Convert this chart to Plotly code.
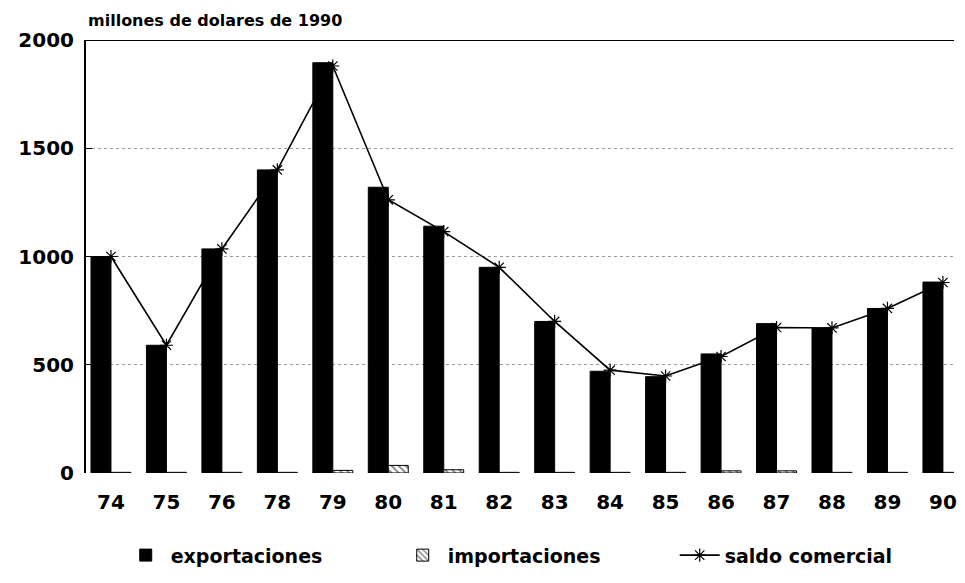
import plotly.graph_objects as go

years = ["74", "75", "76", "78", "79", "80", "81", "82", "83", "84", "85", "86", "87", "88", "89", "90"]
exportaciones = [1000, 590, 1035, 1400, 1895, 1320, 1140, 950, 700, 470, 445, 550, 690, 670, 760, 882]
importaciones = [3, 3, 3, 3, 12, 35, 15, 3, 3, 3, 3, 10, 10, 3, 3, 3]
saldo_comercial = [1000, 590, 1035, 1400, 1880, 1262, 1115, 950, 700, 475, 448, 538, 672, 670, 760, 880]
y_ticks = [0, 500, 1000, 1500, 2000]

FONT = "DejaVu Sans"

fig = go.Figure()
fig.add_trace(go.Bar(
    x=years, y=exportaciones, name="exportaciones",
    marker=dict(color="black", line=dict(color="black", width=1)),
))
fig.add_trace(go.Bar(
    x=years, y=importaciones, name="importaciones",
    marker=dict(color="white", line=dict(color="black", width=1),
                pattern=dict(shape="\\", fgcolor="black", bgcolor="white", size=5, solidity=0.35)),
))
fig.add_trace(go.Scatter(
    x=years, y=saldo_comercial, name="saldo comercial", mode="lines+markers",
    line=dict(color="black", width=1.6),
    marker=dict(symbol="asterisk-open", size=11, color="black", line=dict(color="black", width=1.2)),
))

fig.update_layout(
    width=949, height=567,
    margin=dict(l=78, r=0, t=32, b=102),
    paper_bgcolor="white", plot_bgcolor="white",
    barmode="group", bargap=0.28, bargroupgap=0,
    font=dict(family=FONT, color="black"),
    showlegend=True,
    legend=dict(orientation="h", x=0.04, xanchor="left", y=-0.19, yanchor="middle",
                font=dict(family=FONT, size=19, color="black", weight="bold"),
                itemwidth=40, entrywidth=222, traceorder="normal"),
    xaxis=dict(type="category", range=[-0.45, 15.2], showgrid=False, showline=False,
               zeroline=False, ticks="",
               tickfont=dict(family=FONT, size=20, color="black", weight="bold"),
               ticklabelstandoff=15),
    yaxis=dict(range=[0, 2000], tickvals=y_ticks, showgrid=True, gridcolor="#9a9a9a",
               griddash="dot", gridwidth=1, zeroline=False,
               showline=True, linecolor="black", linewidth=2,
               ticks="inside", ticklen=6, tickcolor="black",
               tickfont=dict(family=FONT, size=20, color="black", weight="bold"),
               ticklabelstandoff=6),
    shapes=[dict(type="line", xref="paper", yref="y", x0=0, x1=1, y0=2000, y1=2000,
                 line=dict(color="black", width=2))],
    annotations=[dict(text="millones de dolares de 1990", xref="paper", yref="paper",
                      x=0, y=1, xanchor="left", yanchor="bottom", yshift=8, showarrow=False,
                      font=dict(family=FONT, size=16, color="black", weight="bold"))],
)

fig.write_html("out.html")
